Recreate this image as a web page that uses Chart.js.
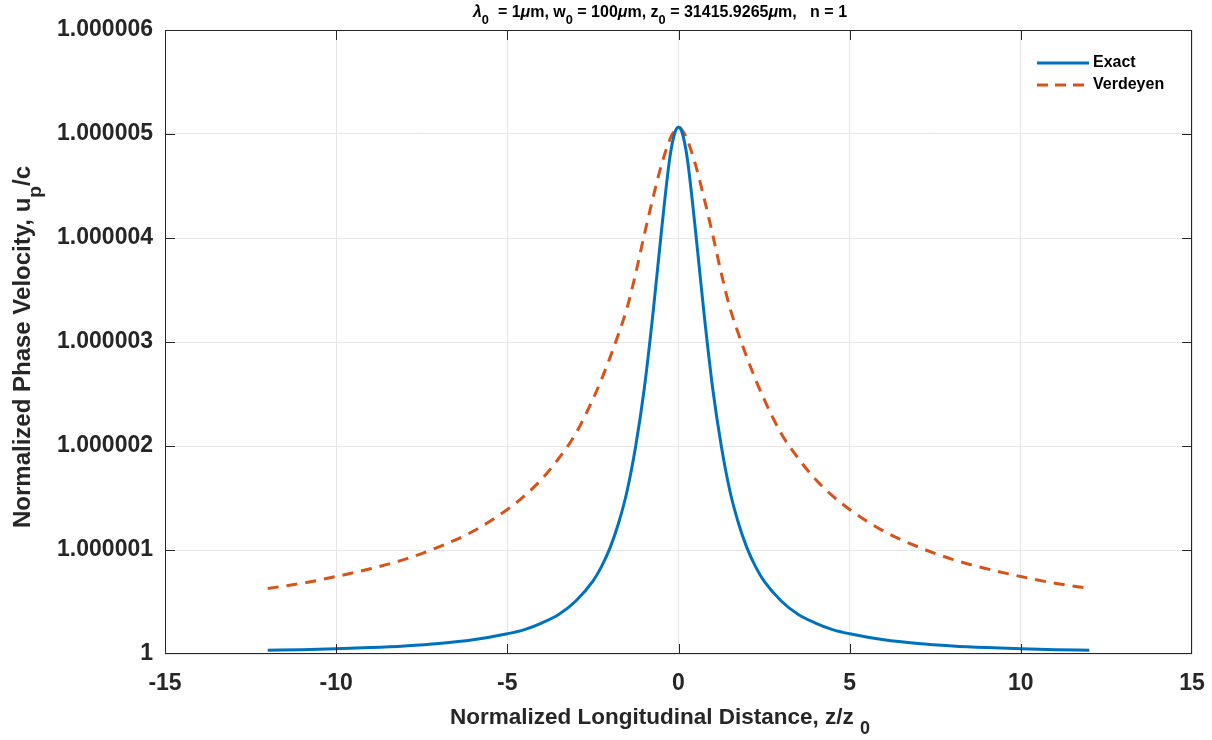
<!DOCTYPE html>
<html>
<head>
<meta charset="utf-8">
<script src="https://cdn.jsdelivr.net/npm/chart.js@4.4.1/dist/chart.umd.min.js"></script>
<style>
  html, body { margin: 0; padding: 0; background: #fff; }
  #wrap { width: 1212px; height: 740px; }
</style>
</head>
<body>
<div id="wrap"><canvas id="phase" width="1212" height="740"></canvas></div>
<script>
// z/z0 sample positions
const zValues = [-12, -11, -10, -9, -8, -7, -6, -5, -4.5, -4, -3.5, -3, -2.5, -2.25, -2, -1.75, -1.5, -1.25, -1, -0.75, -0.5, -0.25, -0.1, 0,
                 0.1, 0.25, 0.5, 0.75, 1, 1.25, 1.5, 1.75, 2, 2.25, 2.5, 3, 3.5, 4, 4.5, 5, 6, 7, 8, 9, 10, 11, 12];

// (u_p/c - 1) in units of 1e-6
const exactVals = [0.035, 0.042, 0.05, 0.062, 0.078, 0.101, 0.137, 0.195, 0.235, 0.298, 0.38, 0.51, 0.70, 0.84, 1.02, 1.26, 1.57, 2.0, 2.55, 3.26, 4.06, 4.78, 5.02, 5.066,
                   5.02, 4.78, 4.06, 3.26, 2.55, 2.0, 1.57, 1.26, 1.02, 0.84, 0.70, 0.51, 0.38, 0.298, 0.235, 0.195, 0.137, 0.101, 0.078, 0.062, 0.05, 0.042, 0.035];

const verdeyenVals = [0.63, 0.68, 0.745, 0.82, 0.91, 1.03, 1.18, 1.39, 1.52, 1.68, 1.88, 2.12, 2.45, 2.64, 2.85, 3.08, 3.33, 3.66, 4.03, 4.38, 4.7, 4.95, 5.04, 5.066,
                      5.04, 4.95, 4.7, 4.38, 4.03, 3.66, 3.33, 3.08, 2.85, 2.64, 2.45, 2.12, 1.88, 1.68, 1.52, 1.39, 1.18, 1.03, 0.91, 0.82, 0.745, 0.68, 0.63];

const xTicks = [-15, -10, -5, 0, 5, 10, 15];
const yTickLabels = ["1", "1.000001", "1.000002", "1.000003", "1.000004", "1.000005", "1.000006"];

const INK = "#262626";
const FONT = "Liberation Sans, Arial, Helvetica, sans-serif";

// draw a run of text pieces, some as subscripts
function drawRich(ctx, parts, x, y, size, align) {
  ctx.save();
  ctx.textBaseline = "alphabetic";
  ctx.textAlign = "left";
  let total = 0;
  parts.forEach(function (p) {
    ctx.font = (p.it ? "italic " : "") + "bold " + (p.sub ? size * 0.8 : size) + "px " + FONT;
    p.w = ctx.measureText(p.t).width;
    total += p.w;
  });
  let cx = align === "center" ? x - total / 2 : x;
  parts.forEach(function (p) {
    ctx.font = (p.it ? "italic " : "") + "bold " + (p.sub ? size * 0.8 : size) + "px " + FONT;
    ctx.fillText(p.t, cx, p.sub ? y + size * 0.45 : y);
    cx += p.w;
  });
  ctx.restore();
}

const decorPlugin = {
  id: "decor",
  afterDraw(chart) {
    const ctx = chart.ctx;
    const a = chart.chartArea;
    const xs = chart.scales.x, ys = chart.scales.y;
    ctx.save();
    ctx.strokeStyle = INK;
    ctx.lineWidth = 1;
    // box
    ctx.strokeRect(a.left + 0.5, a.top + 0.5, a.right - a.left - 1, a.bottom - a.top - 1);
    // inner ticks on all four sides
    ctx.beginPath();
    xTicks.forEach(function (t) {
      const px = Math.min(Math.max(Math.round(xs.getPixelForValue(t)) + 0.5, a.left + 0.5), a.right - 0.5);
      ctx.moveTo(px, a.bottom); ctx.lineTo(px, a.bottom - 10);
      ctx.moveTo(px, a.top); ctx.lineTo(px, a.top + 10);
    });
    yTickLabels.forEach(function (_, i) {
      const py = Math.min(Math.max(Math.round(ys.getPixelForValue(i)) + 0.5, a.top + 0.5), a.bottom - 0.5);
      ctx.moveTo(a.left, py); ctx.lineTo(a.left + 10, py);
      ctx.moveTo(a.right, py); ctx.lineTo(a.right - 10, py);
    });
    ctx.stroke();

    ctx.fillStyle = "#000";
    // title
    drawRich(ctx, [
      { t: "\u03bb", it: true }, { t: "0", sub: true },
      { t: "  = 1" }, { t: "\u03bc", it: true }, { t: "m, w" }, { t: "0", sub: true },
      { t: " = 100" }, { t: "\u03bc", it: true }, { t: "m, z" }, { t: "0", sub: true },
      { t: " = 31415.9265" }, { t: "\u03bc", it: true }, { t: "m,   n = 1" }
    ], 660, 17, 16, "center");

    ctx.fillStyle = INK;
    // x title
    drawRich(ctx, [{ t: "Normalized Longitudinal Distance, z/z " }, { t: "0", sub: true }],
      660, 724, 22.5, "center");
    // y title (rotated)
    ctx.save();
    ctx.translate(30, 347);
    ctx.rotate(-Math.PI / 2);
    drawRich(ctx, [{ t: "Normalized Phase Velocity, u" }, { t: "p", sub: true }, { t: "/c" }],
      0, 0, 24, "center");
    ctx.restore();

    // legend
    const items = [
      { label: "Exact", color: "#0072BD", dash: [], y: 63 },
      { label: "Verdeyen", color: "#D95319", dash: [11, 7], y: 85 }
    ];
    items.forEach(function (it) {
      ctx.save();
      ctx.strokeStyle = it.color;
      ctx.lineWidth = 3;
      ctx.setLineDash(it.dash);
      ctx.beginPath();
      ctx.moveTo(1037, it.y); ctx.lineTo(1089, it.y);
      ctx.stroke();
      ctx.restore();
      ctx.fillStyle = "#000";
      ctx.font = "bold 16px " + FONT;
      ctx.textBaseline = "middle";
      ctx.fillText(it.label, 1093, it.y);
    });
    ctx.restore();
  }
};

function toPoints(vals) {
  return zValues.map(function (z, i) { return { x: z, y: vals[i] }; });
}

new Chart(document.getElementById("phase"), {
  type: "line",
  data: {
    datasets: [
      {
        label: "Exact",
        data: toPoints(exactVals),
        borderColor: "#0072BD",
        borderWidth: 3,
        pointRadius: 0,
        cubicInterpolationMode: "monotone",
        fill: false
      },
      {
        label: "Verdeyen",
        data: toPoints(verdeyenVals),
        borderColor: "#D95319",
        borderWidth: 3,
        borderDash: [11, 8],
        pointRadius: 0,
        cubicInterpolationMode: "monotone",
        fill: false
      }
    ]
  },
  options: {
    responsive: false,
    devicePixelRatio: 1,
    animation: false,
    layout: { autoPadding: false, padding: { top: 30, right: 20, left: 0, bottom: 0 } },
    plugins: { legend: { display: false }, tooltip: { enabled: false } },
    scales: {
      x: {
        type: "linear",
        min: -15, max: 15,
        afterFit: function (s) { s.height = 86; s.paddingLeft = 0; s.paddingRight = 0; },
        afterBuildTicks: function (s) { s.ticks = xTicks.map(function (v) { return { value: v }; }); },
        ticks: {
          color: INK, padding: 16,
          font: { family: FONT, size: 23, weight: "bold" },
          callback: function (v) { return String(v); }
        },
        grid: { color: "#e6e6e6", drawTicks: false },
        border: { display: false }
      },
      y: {
        min: 0, max: 6,
        afterFit: function (s) { s.width = 165; s.paddingTop = 0; s.paddingBottom = 0; },
        afterBuildTicks: function (s) { s.ticks = yTickLabels.map(function (_, i) { return { value: i }; }); },
        ticks: {
          color: INK, padding: 12,
          font: { family: FONT, size: 23, weight: "bold" },
          callback: function (v) { return yTickLabels[Math.round(v)]; }
        },
        grid: { color: "#e6e6e6", drawTicks: false },
        border: { display: false }
      }
    }
  },
  plugins: [decorPlugin]
});
</script>
</body>
</html>
